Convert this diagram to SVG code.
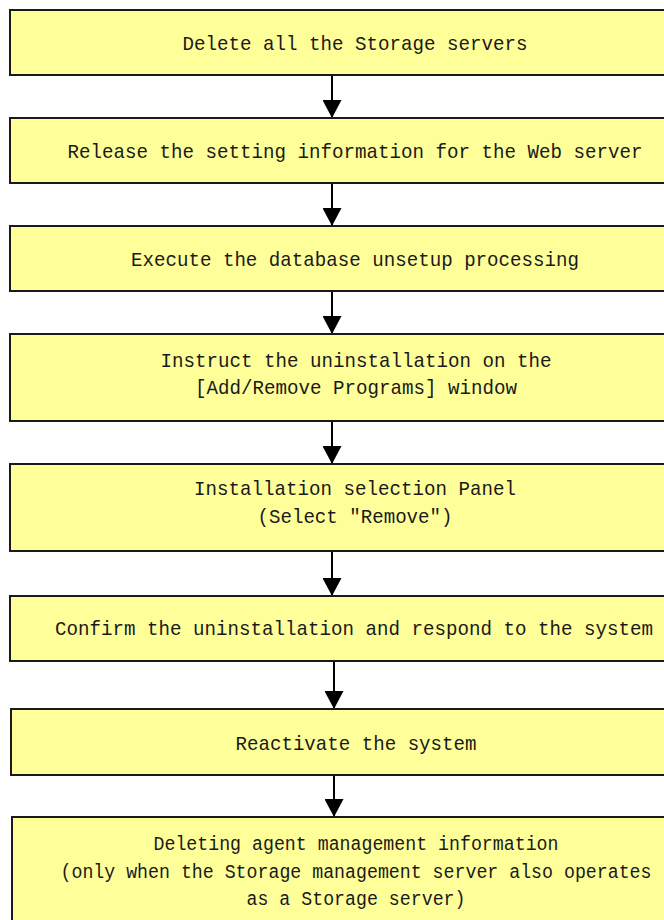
<svg xmlns="http://www.w3.org/2000/svg" width="664" height="920" viewBox="0 0 664 920">
<style>
.box{fill:#FFFF99;stroke:#1a1a1a;stroke-width:2}
.t{font-family:"Liberation Mono","DejaVu Sans Mono",monospace;font-size:21px;fill:#1a1a1a;text-anchor:middle}
.s{font-size:20.5px}
.c{stroke:#000;stroke-width:2;fill:none;marker-end:url(#ah)}
</style>
<defs>
<marker id="ah" viewBox="0 0 18 19" refX="18" refY="9.5" markerWidth="18" markerHeight="19" markerUnits="userSpaceOnUse" orient="auto">
<path d="M0,0 L18,9.5 L0,19 z" fill="#000"/>
</marker>
</defs>
<rect width="664" height="920" fill="#fff"/>
<g id="connectors">
<line class="c" x1="332" y1="76" x2="332" y2="118"/>
<line class="c" x1="332" y1="184" x2="332" y2="226"/>
<line class="c" x1="332" y1="292" x2="332" y2="334"/>
<line class="c" x1="332" y1="422" x2="332" y2="464"/>
<line class="c" x1="332" y1="552" x2="332" y2="596"/>
<line class="c" x1="334" y1="662" x2="334" y2="709"/>
<line class="c" x1="334" y1="776" x2="334" y2="817"/>
</g>
<g id="n1"><rect class="box" x="10" y="10" width="720" height="65"/>
<text class="t" x="355" y="50" textLength="345" lengthAdjust="spacingAndGlyphs">Delete all the Storage servers</text></g>
<g id="n2"><rect class="box" x="10" y="118" width="720" height="65"/>
<text class="t" x="355" y="158" textLength="575" lengthAdjust="spacingAndGlyphs">Release the setting information for the Web server</text></g>
<g id="n3"><rect class="box" x="10" y="226" width="720" height="65"/>
<text class="t" x="355" y="266" textLength="448" lengthAdjust="spacingAndGlyphs">Execute the database unsetup processing</text></g>
<g id="n4"><rect class="box" x="10" y="334" width="720" height="87"/>
<text class="t" x="356" y="367" textLength="391" lengthAdjust="spacingAndGlyphs">Instruct the uninstallation on the</text>
<text class="t" x="356" y="394" textLength="322" lengthAdjust="spacingAndGlyphs">[Add/Remove Programs] window</text></g>
<g id="n5"><rect class="box" x="10" y="464" width="720" height="87"/>
<text class="t" x="355" y="495" textLength="322" lengthAdjust="spacingAndGlyphs">Installation selection Panel</text>
<text class="t" x="355" y="523" textLength="195" lengthAdjust="spacingAndGlyphs">(Select "Remove")</text></g>
<g id="n6"><rect class="box" x="10" y="596" width="720" height="65"/>
<text class="t" x="354" y="635" textLength="598" lengthAdjust="spacingAndGlyphs">Confirm the uninstallation and respond to the system</text></g>
<g id="n7"><rect class="box" x="11" y="709" width="720" height="66"/>
<text class="t" x="356" y="749.5" textLength="241" lengthAdjust="spacingAndGlyphs">Reactivate the system</text></g>
<g id="n8"><rect class="box" x="12" y="817" width="720" height="130"/>
<text class="t s" x="356" y="849.5" textLength="405" lengthAdjust="spacingAndGlyphs">Deleting agent management information</text>
<text class="t s" x="356" y="877.5" textLength="591" lengthAdjust="spacingAndGlyphs">(only when the Storage management server also operates</text>
<text class="t s" x="356" y="905" textLength="219" lengthAdjust="spacingAndGlyphs">as a Storage server)</text></g>
</svg>
